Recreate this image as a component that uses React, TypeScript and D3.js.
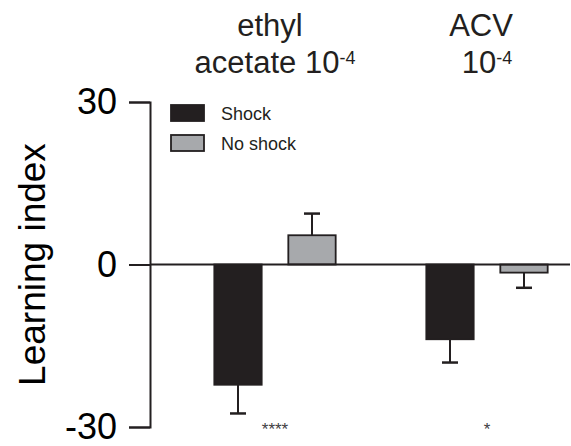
import React, { useEffect, useRef } from 'react';
import * as d3 from 'd3';

const groups = ['ethyl acetate', 'ACV'];
const series = ['Shock', 'No shock'];
const shockMean = [-22.2, -13.8];
const shockSem = [5.3, 4.3];
const noShockMean = [5.4, -1.5];
const noShockSem = [4.0, 2.8];
const stars = ['****', '*'];
const yTicks = [-30, 0, 30];

const fills: Record<string, string> = { Shock: '#231f20', 'No shock': '#a7a9ac' };
const ink = '#231f20';
const font = "'Liberation Sans', Arial, sans-serif";

export default function App() {
  const svgRef = useRef<SVGSVGElement>(null);

  useEffect(() => {
    const svg = d3.select(svgRef.current);
    svg.selectAll('*').remove();

    const width = 571;
    const height = 446;
    svg.attr('width', width).attr('height', height);

    const y = d3.scaleLinear().domain([-30, 30]).range([427, 102]);
    const x = d3.scalePoint<string>().domain(groups).range([275, 487]);
    const xs = d3.scaleBand<string>().domain(series).range([-74, 74]);
    const barW = xs.bandwidth() * 0.64;

    const rows = groups.flatMap((g, i) => [
      { g, s: 'Shock', v: shockMean[i], e: shockSem[i] },
      { g, s: 'No shock', v: noShockMean[i], e: noShockSem[i] },
    ]);
    const cx = (d: any) => (x(d.g) as number) + (xs(d.s) as number) + xs.bandwidth() / 2;

    // error bars (one-sided, away from zero)
    const err = svg.append('g').attr('stroke', ink).attr('stroke-width', 2);
    rows.forEach(d => {
      const end = d.v >= 0 ? d.v + d.e : d.v - d.e;
      err.append('line').attr('x1', cx(d)).attr('x2', cx(d)).attr('y1', y(d.v)).attr('y2', y(end));
      err.append('line')
        .attr('x1', cx(d) - 8).attr('x2', cx(d) + 8)
        .attr('y1', y(end)).attr('y2', y(end))
        .attr('stroke-width', 2.5);
    });

    svg.append('g')
      .selectAll('rect')
      .data(rows)
      .enter()
      .append('rect')
      .attr('x', d => cx(d) - barW / 2)
      .attr('y', d => y(Math.max(0, d.v)))
      .attr('width', barW)
      .attr('height', d => Math.abs(y(d.v) - y(0)))
      .attr('fill', d => fills[d.s])
      .attr('stroke', ink)
      .attr('stroke-width', 1.8);

    // zero line
    svg.append('line')
      .attr('x1', 150).attr('x2', 570)
      .attr('y1', y(0)).attr('y2', y(0))
      .attr('stroke', ink).attr('stroke-width', 2);

    // y axis
    const axis = svg.append('g')
      .attr('transform', 'translate(150,0)')
      .call(d3.axisLeft(y).tickValues(yTicks).tickSize(21).tickPadding(12).tickFormat(d => String(d)));
    axis.select('.domain').attr('stroke', ink).attr('stroke-width', 2);
    axis.selectAll('.tick line').attr('stroke', ink).attr('stroke-width', 2);
    axis.selectAll('.tick text')
      .attr('font-family', font)
      .attr('font-size', 36)
      .attr('dy', '0.33em')
      .attr('fill', '#000');

    svg.append('text')
      .attr('transform', `translate(45,${y(0)}) rotate(-90)`)
      .attr('text-anchor', 'middle')
      .attr('font-family', font)
      .attr('font-size', 37)
      .attr('fill', '#000')
      .text('Learning index');

    // group titles
    const t1 = svg.append('g').attr('font-family', font).attr('font-size', 31).attr('fill', '#231f20').attr('text-anchor', 'middle');
    t1.append('text').attr('x', 270).attr('y', 36).text('ethyl');
    const a = t1.append('text').attr('x', 275).attr('y', 73);
    a.append('tspan').text('acetate 10');
    a.append('tspan').attr('font-size', 18).attr('dy', -9).text('-4');
    t1.append('text').attr('x', 481).attr('y', 36).text('ACV');
    const b = t1.append('text').attr('x', 487).attr('y', 73);
    b.append('tspan').text('10');
    b.append('tspan').attr('font-size', 18).attr('dy', -9).text('-4');

    // significance stars
    svg.append('g')
      .selectAll('text')
      .data(groups)
      .enter()
      .append('text')
      .attr('x', d => x(d) as number)
      .attr('y', 435)
      .attr('text-anchor', 'middle')
      .attr('font-family', font)
      .attr('font-size', 17)
      .attr('fill', '#414042')
      .text((d, i) => stars[i]);

    // legend
    const lg = svg.append('g').attr('transform', 'translate(171,105)');
    series.forEach((s, i) => {
      const row = lg.append('g').attr('transform', `translate(0,${i * 30})`);
      row.append('rect').attr('width', 33).attr('height', 16)
        .attr('fill', fills[s]).attr('stroke', ink).attr('stroke-width', 1.8);
      row.append('text').attr('x', 50).attr('y', 14.5)
        .attr('font-family', font).attr('font-size', 18).attr('fill', '#231f20').text(s);
    });
  }, []);

  return <svg ref={svgRef} style={{ position: 'absolute', left: 0, top: 0 }}></svg>;
}
